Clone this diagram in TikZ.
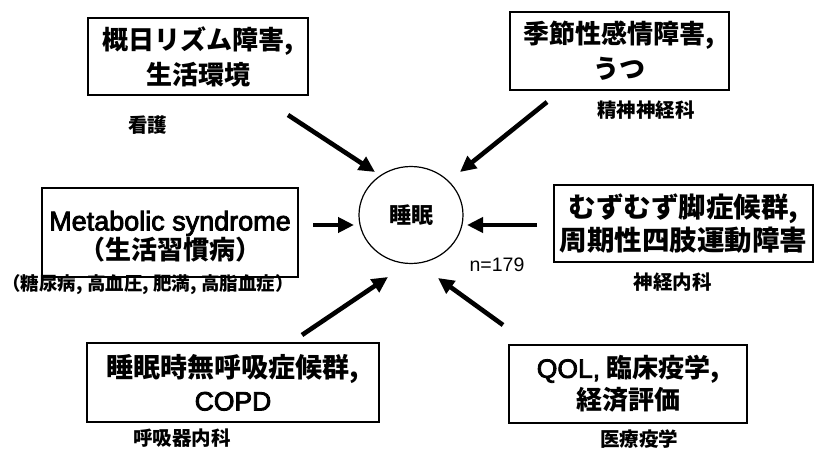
\documentclass[tikz,border=0pt]{standalone}
\usepackage{fontspec}
\usetikzlibrary{arrows.meta,shapes.geometric}
\newfontfamily\jp{Noto Sans CJK JP}
\newfontfamily\lat{Liberation Sans}
\newfontfamily\latb{Liberation Sans}[FakeBold=3]
\tikzset{
  box/.style={draw, line width=1.8pt, inner sep=0pt, align=center,
    font=\jp\bfseries\fontsize{26}{35}\selectfont},
  lbl/.style={inner sep=0pt, font=\jp\bfseries\fontsize{19.5}{22}\selectfont},
  arr/.style={line width=4.6pt, -{Triangle[length=16pt,width=15pt]}},
}
\begin{document}
\begin{tikzpicture}[x=1pt,y=-1pt]
\useasboundingbox[fill=white] (0,0) rectangle (816,449);

% centre
\node[ellipse, draw, line width=1.2pt, minimum width=104pt, minimum height=97pt, inner sep=0pt,
  font=\jp\bfseries\fontsize{22}{24}\selectfont] (c) at (411,215) {睡眠};
\node[inner sep=0pt, font=\lat\fontsize{19.5}{22}\selectfont] (n) at (497,265) {n=179};

% boxes
\node[box, minimum width=220pt, minimum height=77pt] (b1) at (198,56.5) {概日リズム障害,\\生活環境};
\node[box, minimum width=219pt, minimum height=78pt] (b2) at (619.5,51) {季節性感情障害,\\うつ};
\node[box, minimum width=256pt, minimum height=89pt] (b3) at (170,232.5) {};
\node[inner sep=0pt, align=center, font=\jp\bfseries\fontsize{26}{28}\selectfont] (t3) at (170,236.5)
  {{\latb\mdseries\fontsize{27}{28}\selectfont Metabolic syndrome}\\（生活習慣病）};
\node[box, minimum width=259pt, minimum height=77pt, font=\jp\bfseries\fontsize{27.5}{33}\selectfont] (b4) at (683.5,223.5) {むずむず脚症候群,\\周期性四肢運動障害};
\node[box, minimum width=292pt, minimum height=79pt, font=\jp\bfseries\fontsize{27}{33}\selectfont] (b5) at (233,382.5) {睡眠時無呼吸症候群,\\{\latb\mdseries\fontsize{26.5}{28}\selectfont COPD}};
\node[box, minimum width=238pt, minimum height=78pt, font=\jp\bfseries\fontsize{26}{32}\selectfont] (b6) at (628,384) {{\latb\mdseries\fontsize{26.5}{28}\selectfont QOL,} 臨床疫学,\\経済評価};

% labels
\node[lbl] (l1) at (147.5,125) {看護};
\node[lbl] (l2) at (646,110) {精神神経科};
\node[inner sep=0pt, font=\jp\bfseries\fontsize{18.5}{20}\selectfont] (l3) at (148,285) {（糖尿病, 高血圧, 肥満, 高脂血症）};
\node[lbl] (l4) at (672.5,282) {神経内科};
\node[lbl] (l5) at (182,438) {呼吸器内科};
\node[lbl] (l6) at (639,439.5) {医療疫学};

% arrow ends
\coordinate (s1) at (288,115);  \coordinate (e1) at (375,172);
\coordinate (s2) at (547,102);  \coordinate (e2) at (460,172);
\coordinate (s3) at (313,225);  \coordinate (e3) at (354,225);
\coordinate (s4) at (537,225);  \coordinate (e4) at (467,225);
\coordinate (s5) at (302,335);  \coordinate (e5) at (388,277);
\coordinate (s6) at (503,325);  \coordinate (e6) at (438,278);

\draw[arr] (s1) -- (e1);
\draw[arr] (s2) -- (e2);
\draw[arr] (s3) -- (e3);
\draw[arr] (s4) -- (e4);
\draw[arr] (s5) -- (e5);
\draw[arr] (s6) -- (e6);
\end{tikzpicture}
\end{document}
